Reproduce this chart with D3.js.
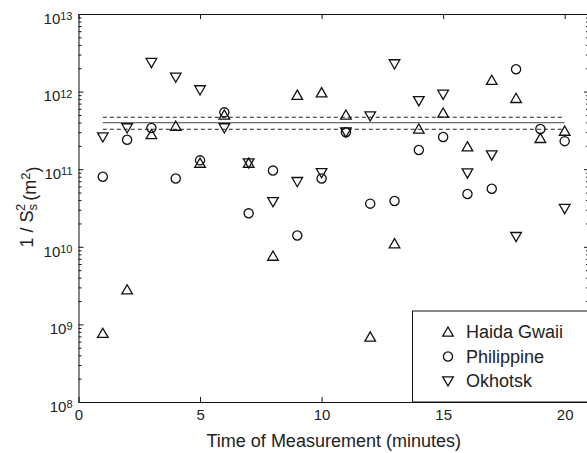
<!DOCTYPE html>
<html>
<head>
<meta charset="utf-8">
<script src="https://cdn.jsdelivr.net/npm/d3@7"></script>
<style>
  body { margin: 0; background: #fff; }
  svg { display: block; font-family: "Liberation Sans", Arial, sans-serif; }
</style>
</head>
<body>
<div id="wrapper"></div>
<script>
// data
const times = [1, 2, 3, 4, 5, 6, 7, 8, 9, 10, 11, 12, 13, 14, 15, 16, 17, 18, 19, 20]
const haidaGwaii = [7.7e8, 2.8e9, 2.8e11, 3.6e11, 1.2e11, 5.0e11, 1.2e11, 7.6e9, 9.0e11, 9.7e11,
    5.0e11, 6.9e8, 1.1e10, 3.3e11, 5.3e11, 1.95e11, 1.4e12, 8.2e11, 2.5e11, 3.1e11]
const philippine = [8.0e10, 2.4e11, 3.4e11, 7.6e10, 1.3e11, 5.4e11, 2.7e10, 9.6e10, 1.4e10, 7.6e10,
    3.0e11, 3.6e10, 3.9e10, 1.77e11, 2.6e11, 4.8e10, 5.6e10, 1.94e12, 3.3e11, 2.3e11]
const okhotsk = [2.6e11, 3.4e11, 2.36e12, 1.53e12, 1.05e12, 3.4e11, 1.2e11, 3.8e10, 6.9e10, 9.0e10,
    3.0e11, 4.85e11, 2.27e12, 7.6e11, 9.2e11, 8.9e10, 1.52e11, 1.35e10, null, 3.1e10]
const meanLine = [3.97e11, 3.97e11]
const upperLine = [4.67e11, 4.67e11]
const lowerLine = [3.27e11, 3.27e11]
const lineTimes = [1, 20]
const seriesNames = ["Haida Gwaii", "Philippine", "Okhotsk"]
const xTicks = [0, 5, 10, 15, 20]
const yExponents = [8, 9, 10, 11, 12, 13]

function drawChart() {
    const dims = {
        width: 587,
        height: 453,
        margin: { top: 14, right: -2, bottom: 51, left: 78.5 }
    }
    dims.boundedWidth = dims.width - dims.margin.left - dims.margin.right
    dims.boundedHeight = dims.height - dims.margin.top - dims.margin.bottom

    const wrapper = d3.select("#wrapper")
        .append("svg")
        .attr("width", dims.width)
        .attr("height", dims.height)

    const bounds = wrapper.append("g")
        .attr("transform", `translate(${dims.margin.left},${dims.margin.top})`)

    // scales
    const xScale = d3.scaleLinear()
        .domain([0, 21])
        .range([0, dims.boundedWidth])

    const yScale = d3.scaleLog()
        .domain([1e8, 1e13])
        .range([dims.boundedHeight, 0])

    const majors = yExponents.map(e => Math.pow(10, e))
    const minors = []
    yExponents.slice(0, -1).forEach(e => {
        for (let k = 2; k < 10; k++) minors.push(k * Math.pow(10, e))
    })

    // reference lines
    const line = d3.line()
        .x(d => xScale(d[0]))
        .y(d => yScale(d[1]))

    bounds.append("path")
        .datum(lineTimes.map((t, i) => [t, meanLine[i]]))
        .attr("d", line)
        .attr("fill", "none")
        .attr("stroke", "#444")
        .attr("stroke-width", 1)

    ;[upperLine, lowerLine].forEach(vals => {
        bounds.append("path")
            .datum(lineTimes.map((t, i) => [t, vals[i]]))
            .attr("d", line)
            .attr("fill", "none")
            .attr("stroke", "#222")
            .attr("stroke-width", 1)
            .attr("stroke-dasharray", "4,3")
    })

    // markers
    const upTri = "M0,-5L5.3,4.2L-5.3,4.2Z"
    const downTri = "M0,5L5.3,-4.2L-5.3,-4.2Z"
    const markerPath = [upTri, d3.symbol(d3.symbolCircle, Math.PI * 4.6 * 4.6)(), downTri]

    const allSeries = [haidaGwaii, philippine, okhotsk]
    allSeries.forEach((vals, si) => {
        bounds.append("g")
            .selectAll("path")
            .data(times.map((t, i) => [t, vals[i]]).filter(d => d[1] != null))
            .join("path")
            .attr("d", markerPath[si])
            .attr("transform", d => `translate(${xScale(d[0])},${yScale(d[1])})`)
            .attr("fill", "none")
            .attr("stroke", "#111")
            .attr("stroke-width", 1.3)
    })

    // axes
    const xAxis = bounds.append("g")
        .attr("transform", `translate(0,${dims.boundedHeight})`)
        .call(d3.axisBottom(xScale).tickValues(xTicks).tickSizeInner(-5).tickSizeOuter(0).tickPadding(7))
    xAxis.selectAll("text").style("font-size", "15px").attr("fill", "#222")

    bounds.append("g")
        .call(d3.axisTop(xScale).tickValues(xTicks).tickSizeInner(-5).tickSizeOuter(0).tickFormat(""))

    const yAxis = bounds.append("g")
        .call(d3.axisLeft(yScale).tickValues(majors).tickSizeInner(-5).tickSizeOuter(0).tickPadding(6)
            .tickFormat(""))
    yAxis.selectAll(".tick text")
        .attr("dy", "0.62em")
        .style("font-size", "15px")
        .attr("fill", "#222")
        .text("10")
        .append("tspan")
        .attr("dy", "-0.35em")
        .style("font-size", "11px")
        .text((d, i) => yExponents[i])

    bounds.append("g")
        .call(d3.axisLeft(yScale).tickValues(minors).tickSizeInner(-3).tickSizeOuter(0).tickFormat(""))
        .select(".domain").remove()

    bounds.append("g")
        .attr("transform", `translate(${dims.boundedWidth},0)`)
        .call(d3.axisRight(yScale).tickValues(majors).tickSizeInner(-5).tickSizeOuter(0).tickFormat(""))
    bounds.append("g")
        .attr("transform", `translate(${dims.boundedWidth},0)`)
        .call(d3.axisRight(yScale).tickValues(minors).tickSizeInner(-3).tickSizeOuter(0).tickFormat(""))
        .select(".domain").remove()

    bounds.selectAll(".domain, .tick line").attr("stroke", "#111")

    // axis titles
    wrapper.append("text")
        .attr("x", dims.margin.left + dims.boundedWidth / 2)
        .attr("y", 447)
        .attr("text-anchor", "middle")
        .style("font-size", "18px")
        .attr("fill", "#222")
        .text("Time of Measurement (minutes)")

    const yLabel = wrapper.append("text")
        .attr("transform", "translate(33,207) rotate(-90)")
        .attr("text-anchor", "middle")
        .style("font-size", "18px")
        .attr("fill", "#222")
    yLabel.append("tspan").text("1 / S")
    yLabel.append("tspan").attr("dy", "0.3em").style("font-size", "13px").text("s")
    yLabel.append("tspan").attr("dx", "-7").attr("dy", "-0.95em").style("font-size", "13px").text("2")
    yLabel.append("tspan").attr("dx", "3").attr("dy", "0.65em").text("(m")
    yLabel.append("tspan").attr("dy", "-0.45em").style("font-size", "13px").text("2")
    yLabel.append("tspan").attr("dy", "0.45em").text(")")

    // legend
    const legend = wrapper.append("g")
        .attr("transform", "translate(412.5,311)")
    legend.append("rect")
        .attr("width", 200)
        .attr("height", dims.margin.top + dims.boundedHeight - 311)
        .attr("fill", "#fff")
        .attr("stroke", "#111")
        .attr("stroke-width", 1)
    seriesNames.forEach((name, i) => {
        const row = legend.append("g")
            .attr("transform", `translate(0,${21 + i * 24.5})`)
        row.append("path")
            .attr("d", markerPath[i])
            .attr("transform", "translate(35.5,0)")
            .attr("fill", "none")
            .attr("stroke", "#111")
            .attr("stroke-width", 1.3)
        row.append("text")
            .attr("x", 53.5)
            .attr("dy", "0.36em")
            .style("font-size", "18px")
            .attr("fill", "#222")
            .text(name)
    })
}

drawChart()
</script>
</body>
</html>
